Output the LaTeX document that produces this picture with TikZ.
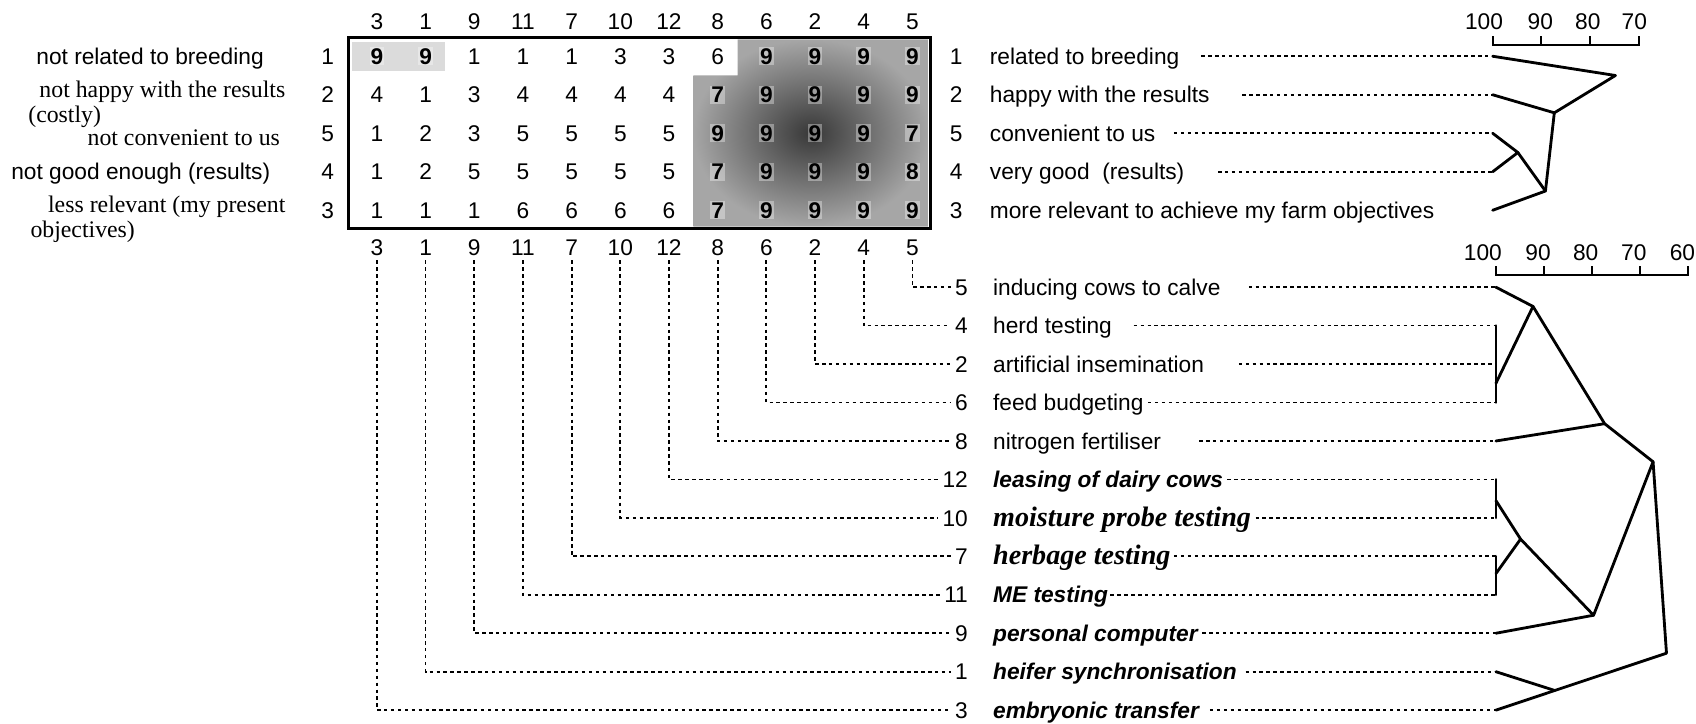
\documentclass[tikz,border=0pt]{standalone}
\usepackage{fontspec}
\setmainfont{Liberation Serif}
\setsansfont{Liberation Sans}
\usetikzlibrary{positioning}

\newcommand\labsans{\sffamily\fontsize{21}{24}\selectfont}
\newcommand\labbisans{\sffamily\bfseries\itshape\fontsize{21}{24}\selectfont}
\newcommand\labserif{\rmfamily\fontsize{22}{25}\selectfont}
\newcommand\labbiserif{\rmfamily\bfseries\itshape\fontsize{26}{29}\selectfont}

\begin{document}
\begin{tikzpicture}[x=1pt, y=-1pt,
    txt/.style={inner sep=0pt, text height=15pt, text depth=0pt},
    num/.style={txt, font=\labsans},
    shd/.style={num, font=\labsans\bfseries, fill=white, fill opacity=0.35, text opacity=1, inner sep=1pt},
    leader/.style={line width=1.6pt, dash pattern=on 3.2pt off 3.2pt},
    branch/.style={line width=2.6pt, line cap=round, line join=round},
    scalebar/.style={line width=2pt}
]
\useasboundingbox (0,0) rectangle (1568,669);

% Grid shading
\shade[inner color=black!78, outer color=black!35] (682,36.5) -- (858.5,36.5) -- (858.5,209.5) -- (641,209.5) -- (641,69.8) -- (682,69.8) -- cycle;
\fill[gray!28] (325,39) rectangle (411,66);

% Column headers
\foreach \h [count=\i] in {3,1,9,11,7,10,12,8,6,2,4,5} {
  \node[num] (th\i) at ({348.5+45*(\i-1)}, 20) {\h};
  \node[num] (bh\i) at ({348.5+45*(\i-1)}, 229) {\h};
}

% Grid values
\foreach \vals [count=\r] in {{9,9,1,1,1,3,3,6,9,9,9,9},{4,1,3,4,4,4,4,7,9,9,9,9},{1,2,3,5,5,5,5,9,9,9,9,7},{1,2,5,5,5,5,5,7,9,9,9,8},{1,1,1,6,6,6,6,7,9,9,9,9}} {
  \foreach \v [count=\c] in \vals {
    \pgfmathtruncatemacro\bold{or(or(and(\r>1,\c>7),and(\r==1,\c>8)),and(\r==1,\c<3))}
    \ifnum\bold=1
      \node[shd] (g\r-\c) at ({348.5+45*(\c-1)}, {52+35.6*(\r-1)}) {\v};
    \else
      \node[num] (g\r-\c) at ({348.5+45*(\c-1)}, {52+35.6*(\r-1)}) {\v};
    \fi
  }
}
\draw[line width=2.8pt] (322,35) rectangle (860,211);

% Row numbers and right labels
\foreach \n/\txt [count=\r] in {1/related to breeding, 2/happy with the results, 5/convenient to us, 4/very good~ (results), 3/more relevant to achieve my farm objectives} {
  \node[num] (ln\r) at (303, {52+35.6*(\r-1)}) {\n};
  \node[num, anchor=east] (rn\r) at (890, {52+35.6*(\r-1)}) {\n};
  \node[txt, font=\labsans, right=25pt of rn\r] (rl\r) {\txt};
  \coordinate (t\r) at (1380, {52+35.6*(\r-1)});
}

% Left labels
\node[txt, font=\labsans, anchor=east] (ll1) at (244,52) {not related to breeding};
\node[txt, font=\labserif, anchor=east] (ll2) at (264,83) {not happy with the results};
\node[txt, font=\labserif, anchor=west] (ll2b) at (26,106) {(costly)};
\node[txt, font=\labserif, anchor=east] (ll3) at (259,127) {not convenient to us};
\node[txt, font=\labsans, anchor=east] (ll4) at (250,158.8) {not good enough (results)};
\node[txt, font=\labserif, anchor=east] (ll5) at (264,189) {less relevant (my present};
\node[txt, font=\labserif, anchor=west] (ll5b) at (28,212) {objectives)};

% Top leaders
\foreach \r/\gap in {1/20,2/30,3/17,4/31}
  \draw[leader] ([xshift=\gap pt]rl\r.east) -- (t\r);

% Top scale
\draw[scalebar] (1380,33.5) -- (1380,41.5) -- (1515,41.5) -- (1515,33.5);
\foreach \x in {1425,1470} \draw[scalebar] (\x,41.5) -- (\x,33.5);
\foreach \v/\x in {100/1372,90/1424,80/1468,70/1511}
  \node[num] (ts\v) at (\x,20) {\v};

% Top tree
\coordinate (tA) at (1493.5,69.8);
\coordinate (tB) at (1437,104.3);
\coordinate (tD) at (1403.3,141);
\coordinate (tC) at (1428.8,176.6);
\draw[branch] (t1) -- (tA) -- (tB) -- (tC) -- (t5);
\draw[branch] (t2) -- (tB);
\draw[branch] (t3) -- (tD) -- (t4);
\draw[branch] (tD) -- (tC);

% Bottom labels
\foreach \k/\n/\txt/\fnt/\gap in {0/5/inducing cows to calve/\labsans/26, 1/4/herd testing/\labsans/20, 2/2/artificial insemination/\labsans/32, 3/6/feed budgeting/\labsans/4, 4/8/nitrogen fertiliser/\labsans/35, 5/12/leasing of dairy cows/\labbisans/4, 6/10/moisture probe testing/\labbiserif/4, 7/7/herbage testing/\labbiserif/3, 8/11/ME testing/\labbisans/2, 9/9/personal computer/\labbisans/4, 10/1/heifer synchronisation/\labbisans/8, 11/3/embryonic transfer/\labbisans/10} {
  \node[num, anchor=east] (bn\k) at (895, {265.5+35.55*\k}) {\n};
  \node[txt, font=\fnt, right=23pt of bn\k] (bl\k) {\txt};
  \coordinate (b\k) at (1383, {265.5+35.55*\k});
  \draw[leader] ([xshift=\gap pt]bl\k.east) -- (b\k);
}

% Column connectors
\foreach \i in {1,...,12} {
  \pgfmathtruncatemacro\k{12-\i}
  \draw[leader] ([yshift=-4pt]bh\i.south) |- ([xshift=-4pt]bn\k.west);
}

% Bottom scale
\draw[scalebar] (1383,246) -- (1383,254.5) -- (1560.5,254.5) -- (1560.5,246);
\foreach \x in {1427.4,1471.8,1516.1} \draw[scalebar] (\x,254.5) -- (\x,246);
\foreach \v/\x in {100/1371,90/1422,80/1466,70/1510.5,60/1555.5}
  \node[num] (bs\v) at (\x,233) {\v};

% Bottom tree
\coordinate (jE) at (1417.3,283.3);
\coordinate (jP1) at (1383,354.4);
\coordinate (jF) at (1483.5,391.7);
\coordinate (jG) at (1528.3,426.9);
\coordinate (jP2) at (1383,462.8);
\coordinate (jH) at (1405.8,498.4);
\coordinate (jP3) at (1383,530.3);
\coordinate (jI) at (1473.3,568.8);
\coordinate (jJ) at (1540.7,603.9);
\coordinate (jK) at (1437.5,638.4);
\draw[branch] (b0) -- (jE) -- (jF) -- (jG) -- (jJ) -- (b11);
\draw[branch] (b1) -- (b3);
\draw[branch] (jP1) -- (jE);
\draw[branch] (b4) -- (jF);
\draw[branch] (b5) -- (b6);
\draw[branch] (b7) -- (b8);
\draw[branch] (jP2) -- (jH) -- (jP3);
\draw[branch] (jH) -- (jI) -- (jG);
\draw[branch] (b9) -- (jI);
\draw[branch] (b10) -- (jK);

\end{tikzpicture}
\end{document}
